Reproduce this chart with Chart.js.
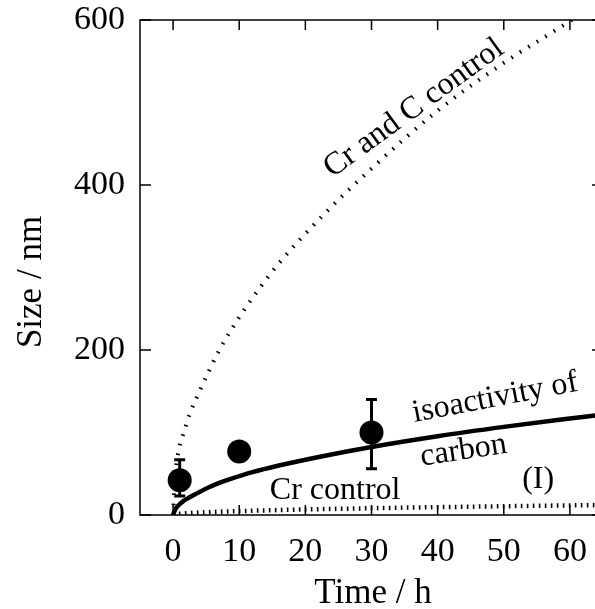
<!DOCTYPE html>
<html>
<head>
<meta charset="utf-8">
<script src="https://cdn.jsdelivr.net/npm/chart.js@4.4.1/dist/chart.umd.min.js"></script>
<style>
html,body{margin:0;padding:0;background:#fff;overflow:hidden}
#wrap{width:595px;height:609px;overflow:hidden}
</style>
</head>
<body>
<div id="wrap"><canvas id="growth" width="615" height="609"></canvas></div>
<script>
// model curves, size (nm) against time (h)
const curveTimes=[0,0.3,1,1.5,2.5,4,5.5,7,8.6,12,16,22.4,30,40,50,58.7,65]
const crAndCControl=[0,45,84,97,122,150,176,200,222,263,305,361,420,490,548,592,625]
const isoactivity=[0,6.5,13,16.5,21.5,28,34,39,43.5,52,60,71,82.5,95.5,106.8,115.7,121.7]
const crControl=[0,0.8,1.5,1.8,2.4,3,3.5,4,4.4,5.2,6,7.1,8.2,9.5,10.6,11.5,12.1]

// measured sizes with error bars
const measTimes=[1,10,30]
const measSize=[42,77,100]
const measLow=[23,77,56]
const measHigh=[67,77,140]

const xTicks=[0,10,20,30,40,50,60]
const yTicks=[0,200,400,600]

// curve labels, placed in data coordinates
const notes=[
    {text:'Cr and C control',x:36.4,y:493,angle:-36},
    {text:'isoactivity of',x:48.7,y:141.8,angle:-10.8},
    {text:'carbon',x:43.9,y:77.8,angle:-8.7},
    {text:'Cr control',x:24.5,y:29.5,angle:0},
    {text:'(I)',x:55.2,y:42.4,angle:0}
]

const serif='"Liberation Serif", "DejaVu Serif", serif'
Chart.defaults.font.family=serif
Chart.defaults.font.size=34
Chart.defaults.color='#000'

function pairs(xs,ys){
    return xs.map((t,i)=>({x:t,y:ys[i]}))
}

const frame={
    id:'frame',
    beforeDatasetsDraw(chart){
        const {ctx,scales:{x,y}}=chart
        ctx.save()
        ctx.strokeStyle='#000'
        ctx.lineWidth=3
        ctx.beginPath()
        measTimes.forEach((t,i)=>{
            if(measLow[i]===measHigh[i]) return
            const px=x.getPixelForValue(t)
            const lo=y.getPixelForValue(measLow[i])
            const hi=y.getPixelForValue(measHigh[i])
            ctx.moveTo(px,lo);ctx.lineTo(px,hi)
            ctx.moveTo(px-5.5,lo);ctx.lineTo(px+5.5,lo)
            ctx.moveTo(px-5.5,hi);ctx.lineTo(px+5.5,hi)
        })
        ctx.stroke()
        ctx.restore()
    },
    afterDraw(chart){
        const {ctx,chartArea:a,scales:{x,y}}=chart
        ctx.save()
        ctx.strokeStyle='#000'
        ctx.lineWidth=1.5
        ctx.strokeRect(a.left,a.top,a.right-a.left,a.bottom-a.top)
        ctx.beginPath()
        xTicks.forEach(v=>{
            const px=x.getPixelForValue(v)
            ctx.moveTo(px,a.bottom);ctx.lineTo(px,a.bottom-10)
            ctx.moveTo(px,a.top);ctx.lineTo(px,a.top+10)
        })
        yTicks.forEach(v=>{
            const py=y.getPixelForValue(v)
            ctx.moveTo(a.left,py);ctx.lineTo(a.left+11,py)
            ctx.moveTo(a.right,py);ctx.lineTo(a.right-11,py)
        })
        ctx.stroke()

        ctx.fillStyle='#000'
        ctx.font='32px '+serif
        ctx.textAlign='center'
        ctx.textBaseline='middle'
        notes.forEach(n=>{
            ctx.save()
            ctx.translate(x.getPixelForValue(n.x),y.getPixelForValue(n.y))
            ctx.rotate(n.angle*Math.PI/180)
            ctx.fillText(n.text,0,0)
            ctx.restore()
        })

        // axis titles
        ctx.font='35px '+serif
        ctx.textBaseline='alphabetic'
        ctx.fillText('Time / h',373,603)
        ctx.save()
        ctx.translate(41,282)
        ctx.rotate(-Math.PI/2)
        ctx.fillText('Size / nm',0,0)
        ctx.restore()
        ctx.restore()
    }
}

const dotted={pointRadius:0,borderColor:'#000',borderCapStyle:'butt',fill:false,showLine:true,cubicInterpolationMode:'monotone'}

new Chart(document.getElementById('growth'),{
    type:'scatter',
    data:{
        datasets:[
            {...dotted,label:'Cr and C control',data:pairs(curveTimes,crAndCControl),borderWidth:4,borderDash:[1.6,8.4]},
            {...dotted,label:'isoactivity of carbon',data:pairs(curveTimes,isoactivity),borderWidth:4.5},
            {...dotted,label:'Cr control',data:pairs(curveTimes,crControl),borderWidth:4.5,borderDash:[1.6,4.4]},
            {label:'measured',data:pairs(measTimes,measSize),pointRadius:12,pointHoverRadius:12,backgroundColor:'#000',borderColor:'#000',borderWidth:0}
        ]
    },
    options:{
        responsive:false,
        animation:false,
        events:[],
        layout:{padding:{top:20,right:10,left:0,bottom:0}},
        plugins:{legend:{display:false},tooltip:{enabled:false}},
        scales:{
            x:{
                type:'linear',min:-5,max:65,
                grid:{display:false,drawTicks:false},
                border:{display:false},
                ticks:{padding:17,maxRotation:0},
                afterBuildTicks:s=>{s.ticks=xTicks.map(v=>({value:v}))},
                afterFit:s=>{s.height=94;s.paddingLeft=0;s.paddingRight=0}
            },
            y:{
                type:'linear',min:0,max:600,
                grid:{display:false,drawTicks:false},
                border:{display:false},
                ticks:{padding:15},
                afterBuildTicks:s=>{s.ticks=yTicks.map(v=>({value:v}))},
                afterFit:s=>{s.width=140;s.paddingTop=0;s.paddingBottom=0}
            }
        }
    },
    plugins:[frame]
})
</script>
</body>
</html>
